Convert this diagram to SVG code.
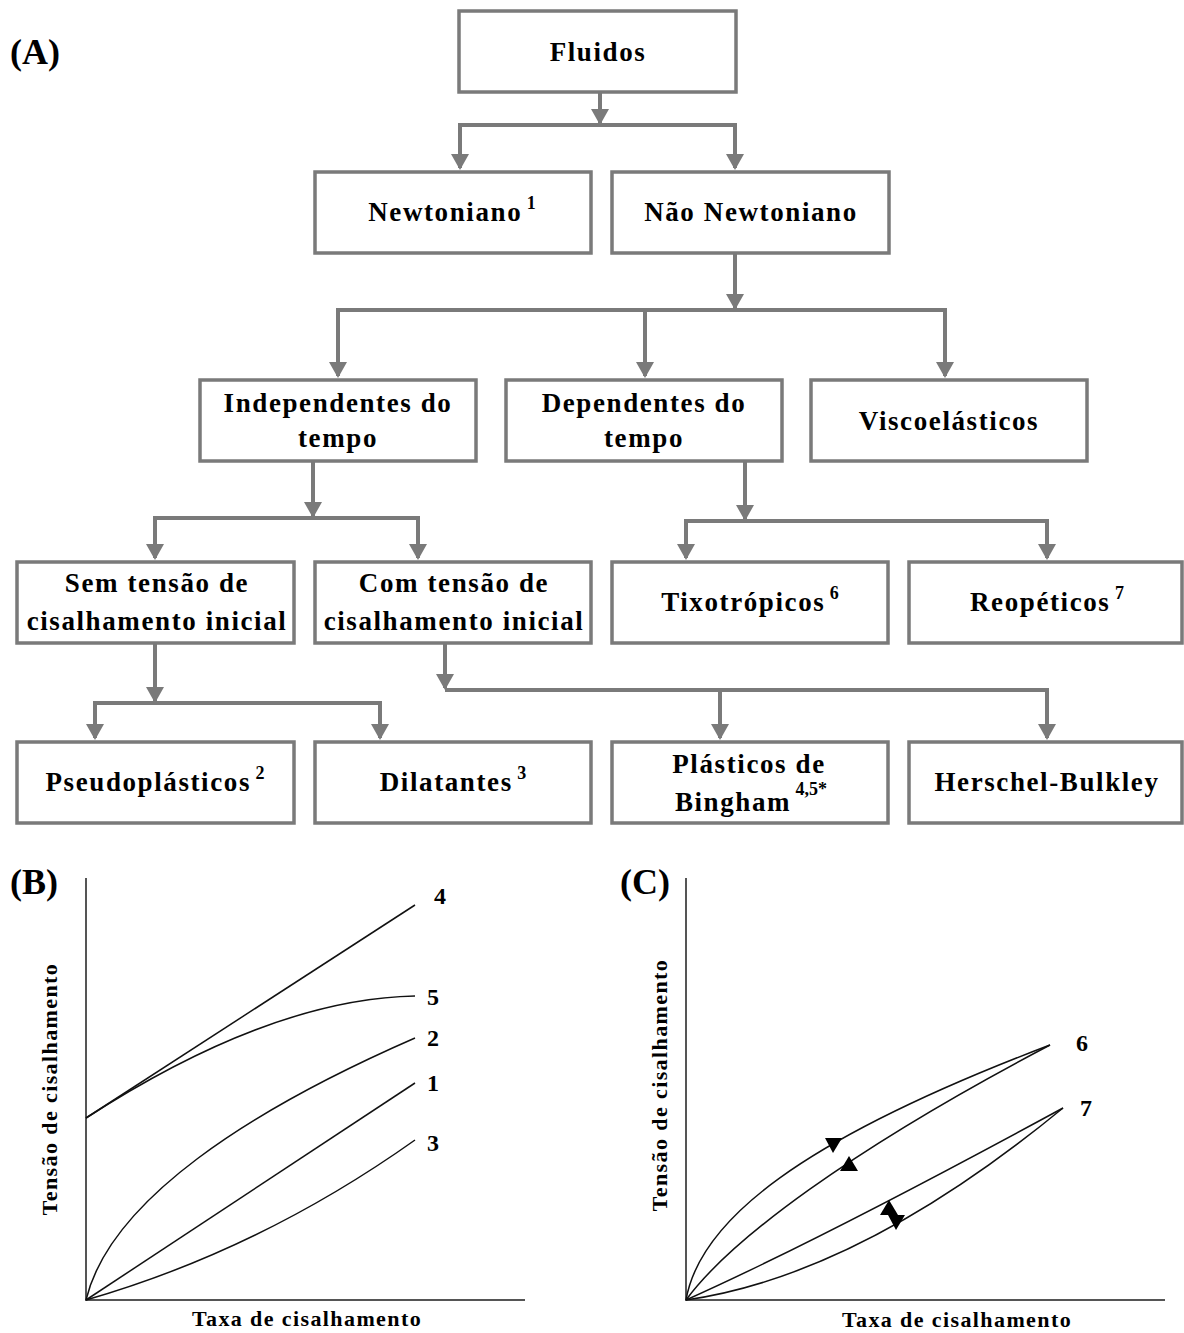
<svg xmlns="http://www.w3.org/2000/svg" width="1184" height="1333" viewBox="0 0 1184 1333">
  <style>
    .box { fill: #ffffff; stroke: #7a7a7a; stroke-width: 3.5; }
    .lbl { font-family: "Liberation Serif", "Times New Roman", serif; font-weight: bold; font-size: 27px; letter-spacing: 1.6px; fill: #000; text-anchor: middle; }
    .sup { font-size: 18px; letter-spacing: 0; }
    .panel { font-family: "Liberation Serif", "Times New Roman", serif; font-weight: bold; font-size: 36px; fill: #000; }
    .axislbl { font-family: "Liberation Serif", "Times New Roman", serif; font-weight: bold; font-size: 22px; letter-spacing: 1.4px; fill: #000; text-anchor: middle; }
    .num { font-family: "Liberation Serif", "Times New Roman", serif; font-weight: bold; font-size: 24px; fill: #000; }
    .conn { fill: none; stroke: #7a7a7a; stroke-width: 4; }
    .axis { fill: none; stroke: #555; stroke-width: 2; }
    .curve { fill: none; stroke: #111; stroke-width: 1.5; }
  </style>
  <defs>
    <marker id="arrow" markerUnits="userSpaceOnUse" viewBox="0 0 16 18" markerWidth="16" markerHeight="18" refX="14" refY="9" orient="auto">
      <path d="M0,0 L16,9 L0,18 z" fill="#7a7a7a"/>
    </marker>
  </defs>

  <rect width="1184" height="1333" fill="#ffffff"/>

  <!-- panel A: classification tree -->
  <text class="panel" x="10" y="64">(A)</text>

  <g id="connectors">
    <path class="conn" d="M600 92 V123" marker-end="url(#arrow)"/>
    <path class="conn" d="M600 125 H460 V168" marker-end="url(#arrow)"/>
    <path class="conn" d="M600 125 H735 V168" marker-end="url(#arrow)"/>

    <path class="conn" d="M735 253 V308" marker-end="url(#arrow)"/>
    <path class="conn" d="M735 310 H338 V376" marker-end="url(#arrow)"/>
    <path class="conn" d="M735 310 H645 V376" marker-end="url(#arrow)"/>
    <path class="conn" d="M735 310 H945 V376" marker-end="url(#arrow)"/>

    <path class="conn" d="M313 461 V516" marker-end="url(#arrow)"/>
    <path class="conn" d="M313 518 H155 V558" marker-end="url(#arrow)"/>
    <path class="conn" d="M313 518 H418 V558" marker-end="url(#arrow)"/>

    <path class="conn" d="M745 461 V519" marker-end="url(#arrow)"/>
    <path class="conn" d="M745 521 H686 V558" marker-end="url(#arrow)"/>
    <path class="conn" d="M745 521 H1047 V558" marker-end="url(#arrow)"/>

    <path class="conn" d="M155 643 V701" marker-end="url(#arrow)"/>
    <path class="conn" d="M155 703 H95 V738" marker-end="url(#arrow)"/>
    <path class="conn" d="M155 703 H380 V738" marker-end="url(#arrow)"/>

    <path class="conn" d="M445 643 V688" marker-end="url(#arrow)"/>
    <path class="conn" d="M445 690 H720 V738" marker-end="url(#arrow)"/>
    <path class="conn" d="M445 690 H1047 V738" marker-end="url(#arrow)"/>
  </g>

  <g id="fluidos">
    <rect class="box" x="459" y="11" width="277" height="81"/>
    <text class="lbl" x="598" y="61">Fluidos</text>
  </g>
  <g id="newtoniano">
    <rect class="box" x="315" y="172" width="276" height="81"/>
    <text class="lbl" x="452" y="221">Newtoniano<tspan class="sup" dy="-12"> 1</tspan></text>
  </g>
  <g id="nao-newtoniano">
    <rect class="box" x="612" y="172" width="277" height="81"/>
    <text class="lbl" x="751" y="221">Não Newtoniano</text>
  </g>
  <g id="independentes">
    <rect class="box" x="200" y="380" width="276" height="81"/>
    <text class="lbl" x="338" y="412">Independentes do</text>
    <text class="lbl" x="338" y="447">tempo</text>
  </g>
  <g id="dependentes">
    <rect class="box" x="506" y="380" width="276" height="81"/>
    <text class="lbl" x="644" y="412">Dependentes do</text>
    <text class="lbl" x="644" y="447">tempo</text>
  </g>
  <g id="viscoelasticos">
    <rect class="box" x="811" y="380" width="276" height="81"/>
    <text class="lbl" x="949" y="430">Viscoelásticos</text>
  </g>
  <g id="sem-tensao">
    <rect class="box" x="17" y="562" width="277" height="81"/>
    <text class="lbl" x="157" y="592">Sem tensão de</text>
    <text class="lbl" x="157" y="630">cisalhamento inicial</text>
  </g>
  <g id="com-tensao">
    <rect class="box" x="315" y="562" width="276" height="81"/>
    <text class="lbl" x="454" y="592">Com tensão de</text>
    <text class="lbl" x="454" y="630">cisalhamento inicial</text>
  </g>
  <g id="tixotropicos">
    <rect class="box" x="612" y="562" width="276" height="81"/>
    <text class="lbl" x="750" y="611">Tixotrópicos<tspan class="sup" dy="-12"> 6</tspan></text>
  </g>
  <g id="reopeticos">
    <rect class="box" x="909" y="562" width="273" height="81"/>
    <text class="lbl" x="1047" y="611">Reopéticos<tspan class="sup" dy="-12"> 7</tspan></text>
  </g>
  <g id="pseudoplasticos">
    <rect class="box" x="17" y="742" width="277" height="81"/>
    <text class="lbl" x="155" y="791">Pseudoplásticos<tspan class="sup" dy="-12"> 2</tspan></text>
  </g>
  <g id="dilatantes">
    <rect class="box" x="315" y="742" width="276" height="81"/>
    <text class="lbl" x="453" y="791">Dilatantes<tspan class="sup" dy="-12"> 3</tspan></text>
  </g>
  <g id="bingham">
    <rect class="box" x="612" y="742" width="276" height="81"/>
    <text class="lbl" x="749" y="773">Plásticos de</text>
    <text class="lbl" x="751" y="811">Bingham<tspan class="sup" dy="-16"> 4,5*</tspan></text>
  </g>
  <g id="herschel-bulkley">
    <rect class="box" x="909" y="742" width="273" height="81"/>
    <text class="lbl" x="1047" y="791">Herschel-Bulkley</text>
  </g>

  <!-- panel B: flow curves of time-independent fluids -->
  <text class="panel" x="10" y="894">(B)</text>
  <path class="axis" d="M86 878 V1300 H525"/>
  <path class="curve" d="M86 1118 L415 905"/>
  <path class="curve" d="M86 1118 Q270 999 415 996"/>
  <path class="curve" d="M86 1300 C110 1200 250 1110 415 1038"/>
  <path class="curve" d="M86 1300 L415 1083"/>
  <path class="curve" d="M86 1300 Q260 1250 415 1140"/>
  <text class="num" x="434" y="904">4</text>
  <text class="num" x="427" y="1005">5</text>
  <text class="num" x="427" y="1046">2</text>
  <text class="num" x="427" y="1091">1</text>
  <text class="num" x="427" y="1151">3</text>
  <text class="axislbl" transform="translate(57 1089) rotate(-90)">Tensão de cisalhamento</text>
  <text class="axislbl" x="307" y="1326">Taxa de cisalhamento</text>

  <!-- panel C: hysteresis loops of time-dependent fluids -->
  <text class="panel" x="620" y="894">(C)</text>
  <path class="axis" d="M686 878 V1300 H1165"/>
  <path class="curve" d="M686 1300 C700 1220 800 1140 1050 1045"/>
  <path class="curve" d="M686 1300 C730 1240 850 1150 1050 1045"/>
  <path class="curve" d="M686 1300 Q820 1240 1063 1108"/>
  <path class="curve" d="M686 1300 Q860 1275 1063 1108"/>
  <polygon points="825,1138 842,1138 833,1153" fill="#000"/>
  <polygon points="849,1156 858,1171 840,1171" fill="#000"/>
  <polygon points="889,1200 898,1215 880,1215" fill="#000"/>
  <polygon points="888,1215 905,1215 896,1230" fill="#000"/>
  <text class="num" x="1076" y="1051">6</text>
  <text class="num" x="1080" y="1116">7</text>
  <text class="axislbl" transform="translate(667 1085) rotate(-90)">Tensão de cisalhamento</text>
  <text class="axislbl" x="957" y="1327">Taxa de cisalhamento</text>
</svg>
